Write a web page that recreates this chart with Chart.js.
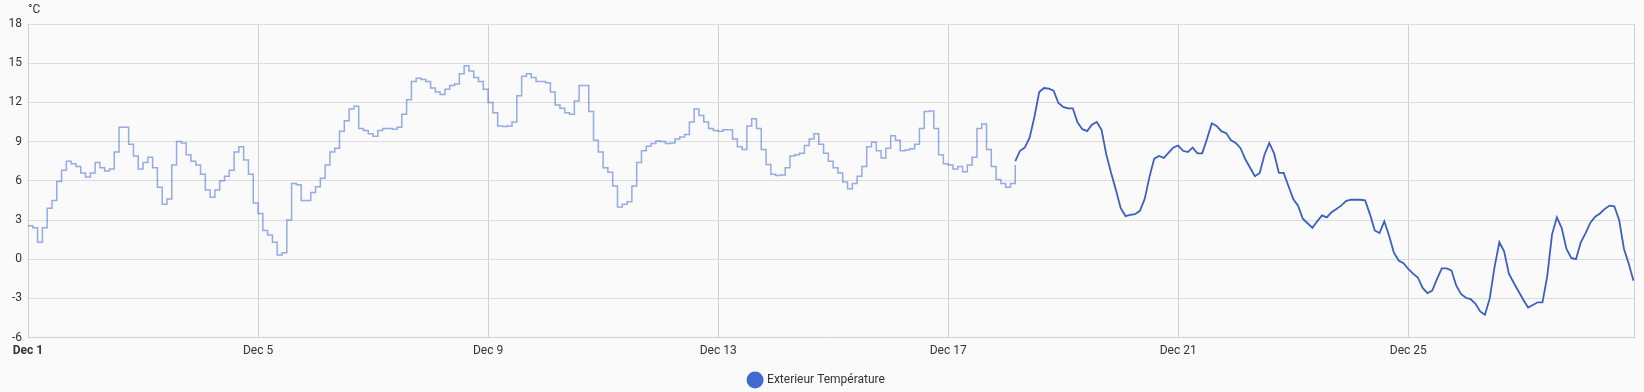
<!DOCTYPE html>
<html>
<head>
<meta charset="utf-8">
<script src="https://cdn.jsdelivr.net/npm/chart.js@4.4.1/dist/chart.umd.min.js"></script>
<style>
  html, body { margin: 0; padding: 0; background: #fafafa; }
  #wrap { position: relative; width: 1644px; height: 392px; }
  canvas { display: block; }
</style>
</head>
<body>
<div id="wrap"><canvas id="c" width="1644" height="392"></canvas></div>
<script>
// Time axis expressed in hours since Dec 1, 00:00
const monthLabel = "Dec";
const firstDay = 1;
const axisEndHour = 670.2;          // Dec 28 ~22:12 (end of displayed range)
const tickEveryHours = 96;           // a label every 4 days
const yTicks = [-6, -3, 0, 3, 6, 9, 12, 15, 18];
const unitLabel = "°C";
const seriesName = "Exterieur Température";

// Long-term statistics (hourly means), sampled every 2 h from Dec 1 00:00
const statsStartHour = 0;
const statsStepHours = 2;
const statsValues = [
  2.56, 2.4, 1.3, 2.4, 3.9, 4.5, 5.95, 6.8, 7.5, 7.3, 7.1, 6.6, 6.3, 6.6, 7.4, 7.0,
  6.75, 6.9, 8.2, 10.1, 10.1, 8.8, 7.9, 6.9, 7.4, 7.8, 7.0, 5.5, 4.2, 4.6, 7.2, 9.0,
  8.9, 8.0, 7.5, 7.2, 6.5, 5.3, 4.75, 5.3, 6.0, 6.35, 6.8, 8.2, 8.6, 7.6, 6.5, 4.3,
  3.5, 2.2, 1.85, 1.3, 0.33, 0.5, 3.0, 5.8, 5.7, 4.5, 4.5, 5.1, 5.55, 6.2, 7.2, 8.2,
  8.5, 9.8, 10.6, 11.5, 11.7, 10.0, 9.85, 9.6, 9.4, 9.85, 10.0, 10.0, 9.95, 10.1, 11.1, 12.2,
  13.6, 13.85, 13.75, 13.6, 13.1, 12.8, 12.6, 13.0, 13.3, 13.4, 14.2, 14.8, 14.4, 13.9, 13.6, 13.0,
  12.0, 11.2, 10.2, 10.15, 10.2, 10.5, 12.5, 14.0, 14.2, 13.9, 13.6, 13.6, 13.5, 12.8, 11.8, 11.55,
  11.2, 11.1, 12.1, 13.3, 13.3, 11.3, 9.1, 8.2, 7.0, 6.65, 5.6, 4.0, 4.2, 4.4, 5.6, 7.4,
  8.3, 8.65, 8.85, 9.05, 9.0, 8.85, 8.9, 9.2, 9.35, 9.55, 10.5, 11.5, 11.0, 10.5, 10.0, 9.85,
  9.8, 9.9, 9.9, 9.2, 8.6, 8.4, 10.2, 10.75, 10.0, 8.4, 7.25, 6.5, 6.4, 6.45, 7.0, 7.9,
  8.0, 8.1, 8.7, 9.2, 9.6, 8.8, 8.1, 7.5, 7.0, 6.6, 5.9, 5.4, 5.8, 6.35, 7.1, 8.6,
  8.95, 8.3, 7.75, 8.5, 9.45, 9.1, 8.3, 8.35, 8.45, 8.8, 10.0, 11.3, 11.35, 10.0, 8.0, 7.3,
  7.2, 6.9, 7.1, 6.7, 7.2, 7.8, 10.0, 10.35, 8.4, 7.1, 6.1, 5.8, 5.5, 5.8, 7.2
];

// Detailed history, sampled every 2 h from Dec 18 04:00
const historyStartHour = 412;
const historyStepHours = 2;
const historyValues = [
  7.5, 8.3, 8.55, 9.3, 10.9, 12.8, 13.1, 13.05, 12.9, 11.95, 11.65, 11.55, 11.55, 10.45, 9.95, 9.8,
  10.3, 10.5, 9.9, 8.0, 6.6, 5.3, 3.9, 3.3, 3.4, 3.45, 3.7, 4.6, 6.3, 7.7, 7.9, 7.75,
  8.15, 8.55, 8.7, 8.3, 8.2, 8.55, 8.1, 8.1, 9.2, 10.4, 10.2, 9.8, 9.65, 9.1, 8.9, 8.5,
  7.65, 7.0, 6.35, 6.6, 8.0, 8.9, 8.1, 6.6, 6.6, 5.6, 4.6, 4.1, 3.1, 2.75, 2.4, 2.9,
  3.35, 3.2, 3.6, 3.85, 4.1, 4.45, 4.55, 4.55, 4.55, 4.5, 3.45, 2.2, 2.0, 2.9, 1.8, 0.5,
  -0.1, -0.3, -0.75, -1.1, -1.4, -2.2, -2.6, -2.4, -1.5, -0.7, -0.7, -0.85, -2.0, -2.65, -2.95, -3.05,
  -3.4, -4.0, -4.25, -3.0, -0.6, 1.3, 0.6, -1.1, -1.8, -2.45, -3.1, -3.7, -3.5, -3.3, -3.3, -1.3,
  1.9, 3.2, 2.4, 0.8, 0.1, 0.0, 1.3, 2.0, 2.8, 3.25, 3.5, 3.85, 4.1, 4.05, 3.0, 0.8,
  -0.35, -1.65
];

const legendColor = "#4269d0";
const mainColor = "#3c60bd";
const statsColor = "rgba(66,105,208,0.55)";

const statsPoints = statsValues.map((v, i) => ({ x: statsStartHour + i * statsStepHours, y: v }));
const historyPoints = historyValues.map((v, i) => ({ x: historyStartHour + i * historyStepHours, y: v }));

const FONT = "Roboto, 'Noto Sans', sans-serif";
const TEXT = "#333333";
const GRID = "#dcdcdc";

const unitPlugin = {
  id: "unitLabel",
  afterDraw(chart) {
    const ctx = chart.ctx;
    ctx.save();
    ctx.font = "12px " + FONT;
    ctx.fillStyle = TEXT;
    ctx.textAlign = "left";
    ctx.textBaseline = "middle";
    ctx.fillText(unitLabel, chart.chartArea.left, 10);
    ctx.restore();
  }
};

new Chart(document.getElementById("c"), {
  type: "line",
  data: {
    datasets: [
      {
        label: seriesName + " (stats)",
        data: statsPoints,
        borderColor: statsColor,
        backgroundColor: statsColor,
        borderWidth: 1.5,
        pointRadius: 0,
        stepped: true,
        fill: false
      },
      {
        label: seriesName,
        data: historyPoints,
        borderColor: mainColor,
        backgroundColor: legendColor,
        borderWidth: 1.8,
        pointRadius: 0,
        tension: 0,
        fill: false
      }
    ]
  },
  options: {
    responsive: false,
    animation: false,
    layout: { padding: { top: 24, right: 10, left: 0, bottom: -4 } },
    plugins: {
      legend: {
        position: "bottom",
        labels: {
          usePointStyle: true,
          pointStyle: "circle",
          font: { family: FONT, size: 12 },
          color: TEXT,
          padding: 10,
          filter: item => item.datasetIndex === 1,
          generateLabels: chart => [{
            text: seriesName,
            fillStyle: legendColor,
            strokeStyle: legendColor,
            lineWidth: 0,
            pointStyle: "circle",
            fontColor: TEXT,
            datasetIndex: 1,
            hidden: false
          }]
        }
      },
      tooltip: { enabled: false }
    },
    scales: {
      x: {
        type: "linear",
        min: 0,
        max: axisEndHour,
        grid: { color: "#cfcfcf", drawTicks: false },
        border: { color: "#cfcfcf" },
        afterBuildTicks: scale => {
          const t = [];
          for (let v = 0; v <= axisEndHour; v += tickEveryHours) t.push({ value: v });
          t.push({ value: axisEndHour });
          scale.ticks = t;
        },
        ticks: {
          autoSkip: false,
          maxRotation: 0,
          padding: 6,
          color: TEXT,
          font: ctx => (ctx.tick && ctx.tick.value === 0)
            ? { family: FONT, size: 12, weight: "bold" }
            : { family: FONT, size: 12 },
          callback: v => (v % tickEveryHours === 0) ? monthLabel + " " + (firstDay + v / 24) : ""
        }
      },
      y: {
        type: "linear",
        min: yTicks[0],
        max: yTicks[yTicks.length - 1],
        afterBuildTicks: scale => { scale.ticks = yTicks.map(v => ({ value: v })); },
        afterFit: scale => { scale.width = 28; },
        grid: { color: GRID, drawTicks: false },
        border: { color: "#cfcfcf" },
        ticks: {
          padding: 6,
          color: TEXT,
          font: { family: FONT, size: 12 }
        }
      }
    }
  },
  plugins: [unitPlugin]
});
</script>
</body>
</html>
